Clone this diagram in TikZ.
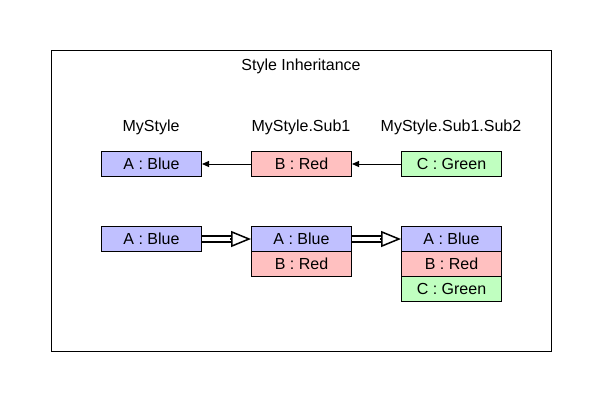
\documentclass[tikz,border=0pt]{standalone}
\usepackage{fontspec}
\setmainfont{Liberation Sans}
\usetikzlibrary{arrows.meta,positioning}
\definecolor{cblue}{HTML}{C0C0FF}
\definecolor{cred}{HTML}{FFC0C0}
\definecolor{cgreen}{HTML}{C0FFC0}
\begin{document}
\begin{tikzpicture}[x=1pt,y=-1pt,
  every node/.style={font=\fontsize{16}{18}\selectfont},
  cell/.style={draw=black, line width=1pt, minimum width=100pt, minimum height=25pt, inner sep=0pt, anchor=north west},
  bluecell/.style={cell, fill=cblue},
  redcell/.style={cell, fill=cred},
  greencell/.style={cell, fill=cgreen},
  lbl/.style={inner sep=0pt},
  thin arrow/.style={line width=1pt, -{Triangle[length=7pt,width=6pt]}},
  shaft/.style={double=white, double distance=3.5pt, line width=2pt, shorten >=20pt},
  bigtip/.style={line width=1.5pt, shorten <=28pt, -{Triangle[open, length=20pt, width=16pt, fill=white]}}
]
\useasboundingbox (0,0) rectangle (602,402);
\node[draw=black, line width=1pt, minimum width=500pt, minimum height=301pt, inner sep=0pt, anchor=north west] (frame) at (51,50) {};
\node[lbl] (title) at (301,66) {Style Inheritance};
\node[lbl] (l1) at (151,127) {MyStyle};
\node[lbl] (l2) at (301,127) {MyStyle.Sub1};
\node[lbl] (l3) at (451,127) {MyStyle.Sub1.Sub2};
% top row
\node[bluecell] (ta) at (101,151) {A : Blue};
\node[redcell] (tb) at (251,151) {B : Red};
\node[greencell] (tc) at (401,151) {C : Green};
\draw[thin arrow] (tb.west) -- (ta.east);
\draw[thin arrow] (tc.west) -- (tb.east);
% bottom row
\node[bluecell] (ba) at (101,226) {A : Blue};
\node[bluecell] (bb1) at (251,226) {A : Blue};
\node[redcell] (bb2) at (251,251) {B : Red};
\node[bluecell] (bc1) at (401,226) {A : Blue};
\node[redcell] (bc2) at (401,251) {B : Red};
\node[greencell] (bc3) at (401,276) {C : Green};
\draw[shaft] (ba.east) -- (bb1.west);
\draw[bigtip] (ba.east) -- (bb1.west);
\draw[shaft] (bb1.east) -- (bc1.west);
\draw[bigtip] (bb1.east) -- (bc1.west);
\end{tikzpicture}
\end{document}
